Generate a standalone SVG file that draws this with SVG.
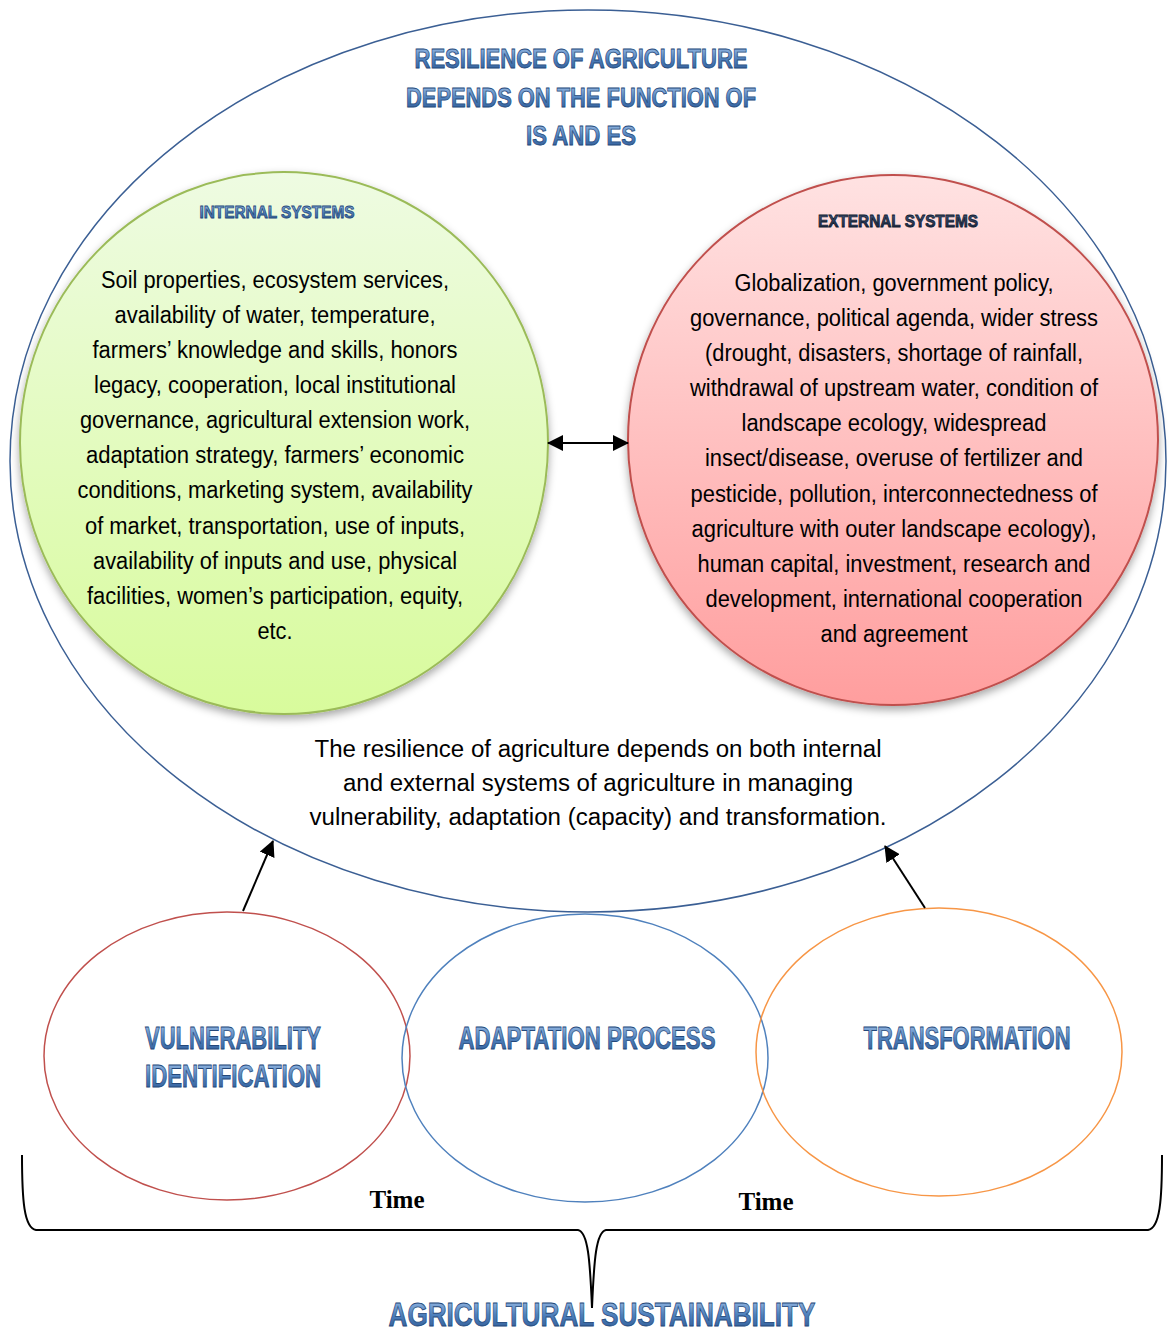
<svg xmlns="http://www.w3.org/2000/svg" width="1172" height="1334" viewBox="0 0 1172 1334">
<defs>
<linearGradient id="gGreen" x1="0" y1="0" x2="0" y2="1">
<stop offset="0" stop-color="#eefbe2"/><stop offset="1" stop-color="#d8fb9c"/>
</linearGradient>
<linearGradient id="gRed" x1="0" y1="0" x2="0" y2="1">
<stop offset="0" stop-color="#ffe2e2"/><stop offset="1" stop-color="#ff9e9e"/>
</linearGradient>
<linearGradient id="gHead" x1="0" y1="0" x2="0" y2="1">
<stop offset="0" stop-color="#a9c7ec"/><stop offset="0.5" stop-color="#4f81bd"/><stop offset="1" stop-color="#2a5590"/>
</linearGradient>
<linearGradient id="gDark" x1="0" y1="0" x2="0" y2="1">
<stop offset="0" stop-color="#4a5d80"/><stop offset="1" stop-color="#101c33"/>
</linearGradient>
<filter id="shadow" x="-10%" y="-10%" width="120%" height="125%">
<feDropShadow dx="0" dy="4" stdDeviation="4" flood-color="#000" flood-opacity="0.35"/>
</filter>
<marker id="arrBig" markerWidth="16" markerHeight="16" refX="15" refY="8" orient="auto" markerUnits="userSpaceOnUse">
<path d="M0,0 L16,8 L0,16 Z" fill="#000"/>
</marker>
<marker id="arrStart" markerWidth="16" markerHeight="16" refX="1" refY="8" orient="auto" markerUnits="userSpaceOnUse">
<path d="M16,0 L0,8 L16,16 Z" fill="#000"/>
</marker>
</defs>
<style>
.body{font-family:"Liberation Sans",Arial,sans-serif;font-size:23px;fill:#000;text-anchor:middle}
.head{font-family:"Liberation Sans",Arial,sans-serif;font-weight:bold;fill:url(#gHead);stroke:#24487a;stroke-width:0.8;text-anchor:middle}
.time{font-family:"Liberation Serif","Times New Roman",serif;font-weight:bold;font-size:25px;fill:#000;text-anchor:middle}
</style>

<g id="outer">
<ellipse cx="588" cy="461" rx="578" ry="451" fill="none" stroke="#3b5f94" stroke-width="1.5"/>
<text class="head" font-size="27" x="581" y="68" textLength="333" lengthAdjust="spacingAndGlyphs">RESILIENCE OF AGRICULTURE</text>
<text class="head" font-size="27" x="581" y="107" textLength="350" lengthAdjust="spacingAndGlyphs">DEPENDS ON THE FUNCTION OF</text>
<text class="head" font-size="27" x="581" y="145" textLength="110" lengthAdjust="spacingAndGlyphs">IS AND ES</text>
<text class="body" x="598" y="757" textLength="567" lengthAdjust="spacingAndGlyphs">The resilience of agriculture depends on both internal</text>
<text class="body" x="598" y="791" textLength="510" lengthAdjust="spacingAndGlyphs">and external systems of agriculture in managing</text>
<text class="body" x="598" y="825" textLength="577" lengthAdjust="spacingAndGlyphs">vulnerability, adaptation (capacity) and transformation.</text>
</g>

<g id="internal">
<ellipse cx="284" cy="443" rx="264" ry="271" fill="url(#gGreen)" stroke="#9bbb59" stroke-width="2" filter="url(#shadow)"/>
<text class="head" font-size="17" x="277" y="218" textLength="155" lengthAdjust="spacingAndGlyphs">INTERNAL SYSTEMS</text>
<text class="body" x="275" y="288" textLength="348" lengthAdjust="spacingAndGlyphs">Soil properties, ecosystem services,</text>
<text class="body" x="275" y="323" textLength="321" lengthAdjust="spacingAndGlyphs">availability of water, temperature,</text>
<text class="body" x="275" y="358" textLength="365" lengthAdjust="spacingAndGlyphs">farmers’ knowledge and skills, honors</text>
<text class="body" x="275" y="393" textLength="362" lengthAdjust="spacingAndGlyphs">legacy, cooperation, local institutional</text>
<text class="body" x="275" y="428" textLength="390" lengthAdjust="spacingAndGlyphs">governance, agricultural extension work,</text>
<text class="body" x="275" y="463" textLength="378" lengthAdjust="spacingAndGlyphs">adaptation strategy, farmers’ economic</text>
<text class="body" x="275" y="498" textLength="395" lengthAdjust="spacingAndGlyphs">conditions, marketing system, availability</text>
<text class="body" x="275" y="534" textLength="380" lengthAdjust="spacingAndGlyphs">of market, transportation, use of inputs,</text>
<text class="body" x="275" y="569" textLength="364" lengthAdjust="spacingAndGlyphs">availability of inputs and use, physical</text>
<text class="body" x="275" y="604" textLength="376" lengthAdjust="spacingAndGlyphs">facilities, women’s participation, equity,</text>
<text class="body" x="275" y="639" textLength="35" lengthAdjust="spacingAndGlyphs">etc.</text>
</g>

<g id="external">
<ellipse cx="893" cy="440" rx="265" ry="265" fill="url(#gRed)" stroke="#c0504d" stroke-width="2" filter="url(#shadow)"/>
<text class="head" font-size="17" x="898" y="227" textLength="160" lengthAdjust="spacingAndGlyphs" style="fill:url(#gDark);stroke:#0e1a30">EXTERNAL SYSTEMS</text>
<text class="body" x="894" y="291" textLength="319" lengthAdjust="spacingAndGlyphs">Globalization, government policy,</text>
<text class="body" x="894" y="326" textLength="408" lengthAdjust="spacingAndGlyphs">governance, political agenda, wider stress</text>
<text class="body" x="894" y="361" textLength="378" lengthAdjust="spacingAndGlyphs">(drought, disasters, shortage of rainfall,</text>
<text class="body" x="894" y="396" textLength="408" lengthAdjust="spacingAndGlyphs">withdrawal of upstream water, condition of</text>
<text class="body" x="894" y="431" textLength="305" lengthAdjust="spacingAndGlyphs">landscape ecology, widespread</text>
<text class="body" x="894" y="466" textLength="378" lengthAdjust="spacingAndGlyphs">insect/disease, overuse of fertilizer and</text>
<text class="body" x="894" y="502" textLength="407" lengthAdjust="spacingAndGlyphs">pesticide, pollution, interconnectedness of</text>
<text class="body" x="894" y="537" textLength="405" lengthAdjust="spacingAndGlyphs">agriculture with outer landscape ecology),</text>
<text class="body" x="894" y="572" textLength="393" lengthAdjust="spacingAndGlyphs">human capital, investment, research and</text>
<text class="body" x="894" y="607" textLength="377" lengthAdjust="spacingAndGlyphs">development, international cooperation</text>
<text class="body" x="894" y="642" textLength="147" lengthAdjust="spacingAndGlyphs">and agreement</text>
</g>

<g id="vulnerability">
<ellipse cx="227" cy="1056" rx="183" ry="144" fill="none" stroke="#c0504d" stroke-width="1.5"/>
<text class="head" font-size="31" x="233" y="1049" textLength="176" lengthAdjust="spacingAndGlyphs">VULNERABILITY</text>
<text class="head" font-size="31" x="233" y="1087" textLength="176" lengthAdjust="spacingAndGlyphs">IDENTIFICATION</text>
</g>

<g id="adaptation">
<ellipse cx="585" cy="1058" rx="183" ry="144" fill="none" stroke="#4f81bd" stroke-width="1.5"/>
<text class="head" font-size="31" x="587" y="1049" textLength="257" lengthAdjust="spacingAndGlyphs">ADAPTATION PROCESS</text>
</g>

<g id="transformation">
<ellipse cx="939" cy="1052" rx="183" ry="144" fill="none" stroke="#f79646" stroke-width="1.5"/>
<text class="head" font-size="31" x="967" y="1049" textLength="207" lengthAdjust="spacingAndGlyphs">TRANSFORMATION</text>
</g>

<g id="sustainability">
<path d="M22,1155 C22,1200 24,1228 36,1230 L578,1230 C588,1232 590,1260 592,1308 C594,1260 596,1232 606,1230 L1148,1230 C1160,1228 1162,1200 1162,1155" fill="none" stroke="#000" stroke-width="2"/>
<text class="time" x="397" y="1208">Time</text>
<text class="time" x="766" y="1210">Time</text>
<text class="head" font-size="33" x="602" y="1326" textLength="427" lengthAdjust="spacingAndGlyphs">AGRICULTURAL SUSTAINABILITY</text>
</g>

<g id="connectors">
<line x1="548" y1="443" x2="628" y2="443" stroke="#000" stroke-width="2" marker-start="url(#arrStart)" marker-end="url(#arrBig)"/>
<line x1="243" y1="911" x2="273" y2="841" stroke="#000" stroke-width="2" marker-end="url(#arrBig)"/>
<line x1="925" y1="908" x2="885" y2="846" stroke="#000" stroke-width="2" marker-end="url(#arrBig)"/>
</g>
</svg>
